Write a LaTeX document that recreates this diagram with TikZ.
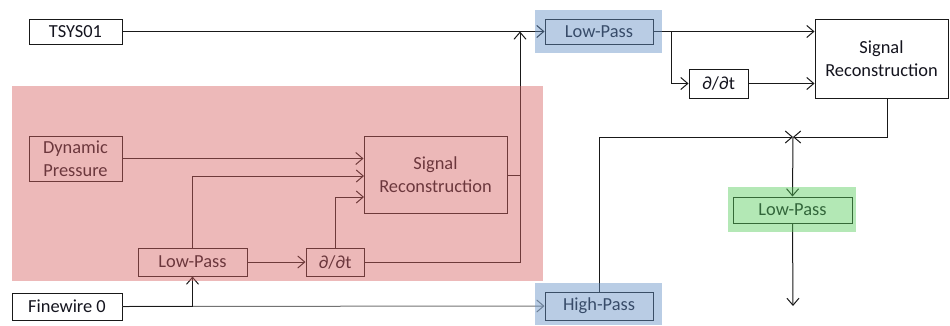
\documentclass[tikz,border=0pt]{standalone}
\usepackage{fontspec}
\setmainfont{Carlito}
\usetikzlibrary{arrows.meta}
\definecolor{pinkC}{RGB}{215,99,99}
\definecolor{blueC}{RGB}{100,144,197}
\definecolor{greenC}{RGB}{88,204,93}
\definecolor{txtC}{RGB}{20,20,30}
\tikzset{
  blk/.style={draw=black!90, line width=1pt, fill=white, inner sep=0pt, align=center,
    text=txtC, font=\fontsize{18.4}{23.5}\selectfont},
  con/.style={draw=black!90, line width=1pt},
  arr/.style={con, -{Straight Barb[length=7pt,width=12pt,line width=1pt]}},
  shade/.style={fill opacity=0.45, draw=none}
}
\begin{document}
\begin{tikzpicture}[x=1pt,y=-1pt]
\useasboundingbox (0,0) rectangle (950,325);
% blocks
\node[blk, minimum width=93pt, minimum height=25pt] (ts) at (75.5,31.5) {TSYS01};
\node[blk, minimum width=110pt, minimum height=27pt] (fw) at (67,306.5) {Finewire 0};
\node[blk, minimum width=93pt, minimum height=45pt] (dp) at (75.5,158.5) {Dynamic\\Pressure};
\node[blk, minimum width=109pt, minimum height=28pt] (lp1) at (192.5,262) {Low-Pass};
\node[blk, minimum width=58pt, minimum height=28pt] (d1) at (335,262) {∂/∂t};
\node[blk, minimum width=143pt, minimum height=77pt] (sr1) at (435.5,174.5) {Signal\\Reconstruction};
\node[blk, minimum width=108pt, minimum height=25pt] (lpA) at (599,31.5) {Low-Pass};
\node[blk, minimum width=108pt, minimum height=28pt] (hp) at (599,306) {High-Pass};
\node[blk, minimum width=59pt, minimum height=29pt] (dB) at (718.5,83.5) {∂/∂t};
\node[blk, minimum width=133pt, minimum height=79pt] (srB) at (881.5,58.5) {Signal\\Reconstruction};
\node[blk, minimum width=119pt, minimum height=26pt] (lpG) at (792.5,210) {Low-Pass};
% junction coordinates
\coordinate (up) at (520,31.5);
\coordinate (upS) at (520,175);
\coordinate (br) at (671,31.5);
\coordinate (mix) at (793,137);
\coordinate (srBo) at (887,98);
\coordinate (hpo) at (599,292);
\coordinate (out) at (793,306);
\coordinate (inA) at (364,197);
\coordinate (inB) at (364,176);
% connectors
\draw[arr, draw=black!55] (fw.east) -- (hp.west);
\draw[arr] (fw.east) -| (lp1.south);
\draw[arr] (ts.east) -- (lpA.west);
\draw[arr] (dp.east) -- (dp.east -| sr1.west);
\draw[arr] (lp1.north) |- (inB);
\draw[arr] (lp1.east) -- (d1.west);
\draw[arr] (d1.north) |- (inA);
\draw[arr] (d1.east) -| (up);
\draw[con] (sr1.east |- upS) -- (upS);
\draw[arr] (lpA.east) -- (lpA.east -| srB.west);
\draw[arr] (br) |- (dB.west);
\draw[arr] (dB.east) -- (dB.east -| srB.west);
\draw[arr] (srBo) |- (mix);
\draw[arr] (hpo) |- (mix);
\draw[arr] (mix) -- (lpG.north);
\draw[arr] (lpG.south) -- (out);
% translucent shading
\fill[shade, pinkC] (12,86) rectangle (543,281);
\fill[shade, blueC] (535,10) rectangle (662,53);
\fill[shade, blueC] (535,283) rectangle (662,325);
\fill[shade, greenC] (728,187) rectangle (856,232);
\end{tikzpicture}
\end{document}
